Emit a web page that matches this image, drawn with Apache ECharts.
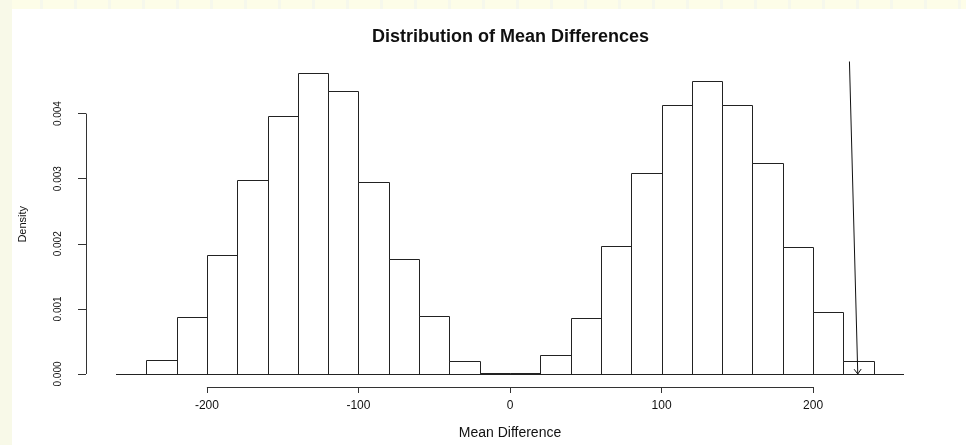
<!DOCTYPE html>
<html>
<head>
<meta charset="utf-8">
<script src="https://cdn.jsdelivr.net/npm/echarts@6/dist/echarts.min.js"></script>
<style>html,body{margin:0;padding:0;background:#fff}#c{width:966px;height:445px}</style>
</head>
<body>
<div id="c"></div>
<script>
// ---- data ----
const binStarts = [-240,-220,-200,-180,-160,-140,-120,-100,-80,-60,-40,-20,0,20,40,60,80,100,120,140,160,180,200,220];
const binWidth = 20;
const densities = [0.00022,0.00088,0.00183,0.00298,0.00396,0.00462,0.00435,0.00295,0.00177,0.00089,0.00020,0.000015,
                   0.000015,0.00029,0.00086,0.00197,0.00309,0.00413,0.00450,0.00413,0.00324,0.00195,0.00095,0.00020];
const xTicks = [-200,-100,0,100,200];
const yTicks = [0,0.001,0.002,0.003,0.004];
const arrowFrom = [224, 0.0048];
const arrowTo = [229.5, 0];
const xRange = [-260, 260];
const yRange = [-0.0002, 0.0048];

const FONT = 'Liberation Sans, Arial, sans-serif';
const chart = echarts.init(document.getElementById('c'), null, {renderer:'canvas'});

const barData = binStarts.map((s,i)=>[s, s+binWidth, densities[i]]);
const Y_OFFSET = 30;

// decorative page background stripes (top band), very faint
const stripes = [];
for (let sx = 40; sx < 966; sx += 34) {
  stripes.push({type:'rect', shape:{x:sx, y:0, width:3, height:9}, style:{fill:'#f6f8ec'}, z:-9});
}

chart.setOption({
  animation:false,
  backgroundColor:'#fdfde8',
  graphic:[
    {type:'rect', shape:{x:0,y:0,width:12,height:445}, style:{fill:'#f8f9e8'}, z:-10},
    ...stripes,
    {type:'rect', shape:{x:12,y:9,width:954,height:436}, style:{fill:'#ffffff'}, z:-8}
  ],
  title:{
    text:'Distribution of Mean Differences', left:367, top:23,
    textStyle:{fontFamily:FONT, fontSize:18, fontWeight:'bold', color:'#111'}
  },
  grid:{left:116, right:62, top:61.5, bottom:58},
  xAxis:{
    type:'value', min:xRange[0], max:xRange[1],
    axisLine:{show:false, onZero:false}, splitLine:{show:false},
    axisTick:{show:true, customValues:xTicks, length:6, lineStyle:{color:'#333'}},
    axisLabel:{show:true, customValues:xTicks, margin:13, fontFamily:FONT, fontSize:12, color:'#111'},
    name:'Mean Difference', nameLocation:'middle', nameGap:39,
    nameTextStyle:{fontFamily:FONT, fontSize:14, color:'#111'}
  },
  yAxis:{
    type:'value', min:yRange[0], max:yRange[1], offset:Y_OFFSET,
    axisLine:{show:false, onZero:false}, splitLine:{show:false},
    axisTick:{show:true, customValues:yTicks, length:8, lineStyle:{color:'#333'}},
    axisLabel:{show:true, customValues:yTicks, rotate:90, margin:23, fontFamily:FONT, fontSize:10, color:'#111',
      formatter:v=>v.toFixed(3)},
    name:'Density', nameLocation:'middle', nameGap:58, nameRotate:90,
    nameTextStyle:{fontFamily:FONT, fontSize:11, color:'#111'}
  },
  series:[
    {
      type:'custom', name:'bars', data:barData, encode:{x:[0,1], y:2}, clip:false,
      renderItem:(params, api)=>{
        const p0 = api.coord([api.value(0), 0]);
        const p1 = api.coord([api.value(1), api.value(2)]);
        const x = Math.round(p0[0])+0.5, y = Math.round(p1[1])+0.5;
        const w = Math.round(p1[0])-Math.round(p0[0]);
        const h = Math.round(p0[1])-Math.round(p1[1]);
        return {type:'rect', shape:{x, y, width:w, height:Math.max(h,0.6)},
          style:{fill:'#ffffff', stroke:'#222', lineWidth:1}};
      }
    },
    {
      type:'custom', name:'frame', data:[[0,0]], clip:false, silent:true,
      renderItem:(params, api)=>{
        const b0 = api.coord([xRange[0], 0]), b1 = api.coord([xRange[1], 0]);
        const by = Math.round(b0[1])+0.5;
        const a0 = api.coord([xTicks[0], yRange[0]]), a1 = api.coord([xTicks[xTicks.length-1], yRange[0]]);
        const ay = Math.round(a0[1])+0.5;
        const yx = Math.round(api.coord([xRange[0], 0])[0]) - Y_OFFSET + 0.5;
        const c0 = api.coord([xRange[0], yTicks[0]]), c1 = api.coord([xRange[0], yTicks[yTicks.length-1]]);
        return {type:'group', children:[
          {type:'line', shape:{x1:b0[0], y1:by, x2:b1[0], y2:by}, style:{stroke:'#222', lineWidth:1}},
          {type:'line', shape:{x1:a0[0], y1:ay, x2:a1[0], y2:ay}, style:{stroke:'#333', lineWidth:1}},
          {type:'line', shape:{x1:yx, y1:c0[1], x2:yx, y2:c1[1]}, style:{stroke:'#333', lineWidth:1}}
        ]};
      }
    },
    {
      type:'custom', name:'arrow', data:[[arrowFrom[0], arrowFrom[1], arrowTo[0], arrowTo[1]]], clip:false, z:5,
      encode:{x:[0,2], y:[1,3]},
      renderItem:(params, api)=>{
        const s = api.coord([api.value(0), api.value(1)]);
        const e = api.coord([api.value(2), api.value(3)]);
        const ang = Math.atan2(e[1]-s[1], e[0]-s[0]);
        const L = 6, spread = Math.PI/5;
        const h1 = [e[0]-L*Math.cos(ang-spread), e[1]-L*Math.sin(ang-spread)];
        const h2 = [e[0]-L*Math.cos(ang+spread), e[1]-L*Math.sin(ang+spread)];
        return {type:'group', children:[
          {type:'line', shape:{x1:s[0], y1:s[1], x2:e[0], y2:e[1]}, style:{stroke:'#111', lineWidth:1}},
          {type:'polyline', shape:{points:[h1, e, h2]}, style:{stroke:'#111', lineWidth:1, fill:null}}
        ]};
      }
    }
  ]
});
</script>
</body>
</html>
